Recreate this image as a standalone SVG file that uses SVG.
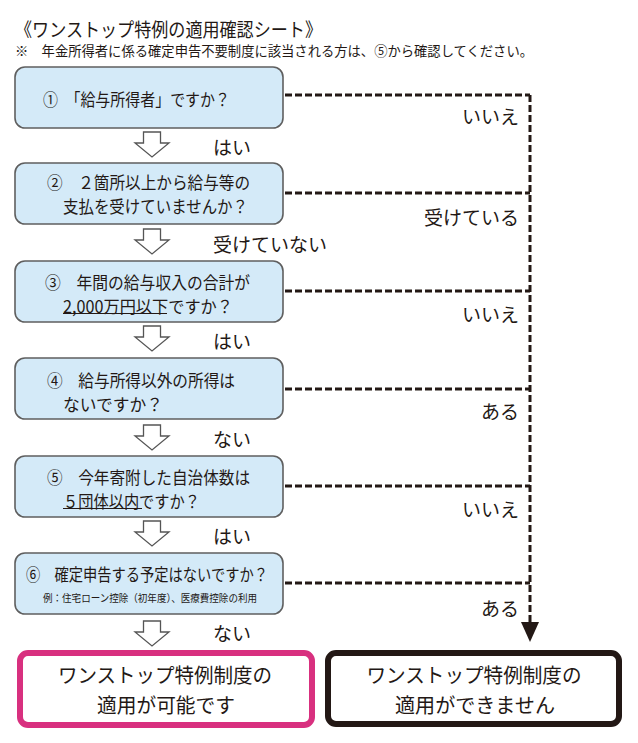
<svg xmlns="http://www.w3.org/2000/svg" width="638" height="743" viewBox="0 0 638 743">
<style>
text{font-family:"Noto Sans CJK JP","Noto Sans",sans-serif;fill:#231815;dominant-baseline:central}
.box{fill:#d4eaf8;stroke:#5f5f5f;stroke-width:1.6}
.q{font-size:17px}
.lbl{font-size:19px}
.harrow{fill:#fff;stroke:#555;stroke-width:1.3;stroke-linejoin:miter}
.dash{fill:none;stroke:#231815;stroke-width:3;stroke-dasharray:7 3}
.ul{stroke:#231815;stroke-width:1.2}
.res{font-size:20px}
</style>
<defs>
<marker id="ah" viewBox="0 0 20 18" refX="8" refY="9" markerWidth="20" markerHeight="18" markerUnits="userSpaceOnUse" orient="auto">
<path d="M0,0 L20,9 L0,18 Z" fill="#231815"/>
</marker>
</defs>
<rect width="638" height="743" fill="#fff"/>
<g id="header">
<text x="15" y="28" font-size="19" textLength="307" lengthAdjust="spacingAndGlyphs">《ワンストップ特例の適用確認シート》</text>
<text x="15" y="50" font-size="13.5" textLength="518" lengthAdjust="spacingAndGlyphs">※　年金所得者に係る確定申告不要制度に該当される方は、⑤から確認してください。</text>
</g>
<g id="connectors">
<path class="dash" d="M285,95 H530 M285,193 H530 M285,291 H530 M285,389 H530 M285,486 H530 M285,583 H530"/>
<path class="dash" d="M530,95 V630" marker-end="url(#ah)"/>
<path class="harrow" d="M143.5,132 H160.5 V143 H169 L152,157 L135,143 H143.5 Z"/>
<path class="harrow" d="M143.5,229 H160.5 V240 H169 L152,254 L135,240 H143.5 Z"/>
<path class="harrow" d="M143.5,326 H160.5 V337 H169 L152,351 L135,337 H143.5 Z"/>
<path class="harrow" d="M143.5,425 H160.5 V436 H169 L152,450 L135,436 H143.5 Z"/>
<path class="harrow" d="M143.5,521 H160.5 V532 H169 L152,546 L135,532 H143.5 Z"/>
<path class="harrow" d="M143.5,621 H160.5 V632 H169 L152,646 L135,632 H143.5 Z"/>
<text class="lbl" x="213" y="146">はい</text>
<text class="lbl" x="213" y="243">受けていない</text>
<text class="lbl" x="213" y="340">はい</text>
<text class="lbl" x="213" y="438">ない</text>
<text class="lbl" x="213" y="535">はい</text>
<text class="lbl" x="213" y="632">ない</text>
<text class="lbl" x="519" y="115" text-anchor="end">いいえ</text>
<text class="lbl" x="519" y="216" text-anchor="end">受けている</text>
<text class="lbl" x="519" y="313" text-anchor="end">いいえ</text>
<text class="lbl" x="519" y="410" text-anchor="end">ある</text>
<text class="lbl" x="519" y="508" text-anchor="end">いいえ</text>
<text class="lbl" x="519" y="607" text-anchor="end">ある</text>
</g>
<g id="q1">
<rect class="box" x="15" y="67" width="268" height="61" rx="10"/>
<text class="q" x="43" y="98" textLength="187" lengthAdjust="spacingAndGlyphs">①　「給与所得者」ですか？</text>
</g>
<g id="q2">
<rect class="box" x="15" y="163" width="268" height="61" rx="10"/>
<text class="q" x="47" y="181.5" textLength="203" lengthAdjust="spacingAndGlyphs">②　２箇所以上から給与等の</text>
<text class="q" x="63" y="205.5" textLength="185" lengthAdjust="spacingAndGlyphs">支払を受けていませんか？</text>
</g>
<g id="q3">
<rect class="box" x="15" y="261" width="268" height="61" rx="10"/>
<text class="q" x="45" y="281" textLength="205" lengthAdjust="spacingAndGlyphs">③　年間の給与収入の合計が</text>
<text class="q" x="63" y="305" textLength="170" lengthAdjust="spacingAndGlyphs">2,000万円以下ですか？</text>
<line class="ul" x1="63" y1="313.5" x2="167" y2="313.5"/>
</g>
<g id="q4">
<rect class="box" x="15" y="358" width="268" height="61" rx="10"/>
<text class="q" x="47" y="379" textLength="188" lengthAdjust="spacingAndGlyphs">④　給与所得以外の所得は</text>
<text class="q" x="63" y="403" textLength="100" lengthAdjust="spacingAndGlyphs">ないですか？</text>
</g>
<g id="q5">
<rect class="box" x="15" y="456" width="268" height="61" rx="10"/>
<text class="q" x="47" y="476" textLength="203" lengthAdjust="spacingAndGlyphs">⑤　今年寄附した自治体数は</text>
<text class="q" x="63" y="500" textLength="137" lengthAdjust="spacingAndGlyphs">５団体以内ですか？</text>
<line class="ul" x1="63" y1="508.5" x2="142" y2="508.5"/>
</g>
<g id="q6">
<rect class="box" x="15" y="553" width="268" height="61" rx="10"/>
<text class="q" x="26" y="573" textLength="242" lengthAdjust="spacingAndGlyphs">⑥　確定申告する予定はないですか？</text>
<text x="43" y="597" font-size="10.5" textLength="214" lengthAdjust="spacingAndGlyphs">例：住宅ローン控除（初年度）、医療費控除の利用</text>
</g>
<g id="result-yes">
<rect x="20" y="653" width="292" height="72" rx="8" fill="#fff" stroke="#d8307f" stroke-width="6"/>
<text class="res" x="165" y="674.5" text-anchor="middle" textLength="214" lengthAdjust="spacingAndGlyphs">ワンストップ特例制度の</text>
<text class="res" x="166" y="704" text-anchor="middle" textLength="138" lengthAdjust="spacingAndGlyphs">適用が可能です</text>
</g>
<g id="result-no">
<rect x="328" y="653" width="291" height="71" rx="8" fill="#fff" stroke="#231815" stroke-width="6"/>
<text class="res" x="474" y="674.5" text-anchor="middle" textLength="215" lengthAdjust="spacingAndGlyphs">ワンストップ特例制度の</text>
<text class="res" x="475" y="704" text-anchor="middle" textLength="160" lengthAdjust="spacingAndGlyphs">適用ができません</text>
</g>
</svg>
